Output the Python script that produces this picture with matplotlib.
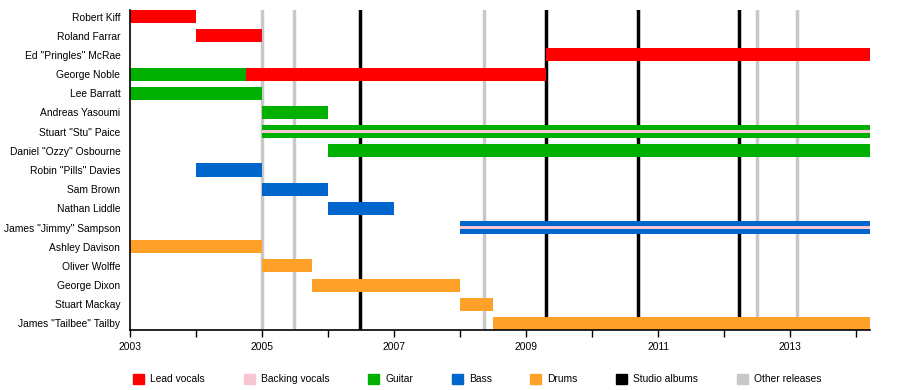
import matplotlib.pyplot as plt
from matplotlib.patches import Patch

plt.rcParams['font.family'] = ['Liberation Sans', 'DejaVu Sans']
plt.rcParams['font.size'] = 7.4

END = 2014.21

members = ['Robert Kiff', 'Roland Farrar', 'Ed "Pringles" McRae', 'George Noble',
           'Lee Barratt', 'Andreas Yasoumi', 'Stuart "Stu" Paice',
           'Daniel "Ozzy" Osbourne', 'Robin "Pills" Davies', 'Sam Brown',
           'Nathan Liddle', 'James "Jimmy" Sampson', 'Ashley Davison',
           'Oliver Wolffe', 'George Dixon', 'Stuart Mackay', 'James "Tailbee" Tailby']

# (member, role, start, end)
spans = [
    ('Robert Kiff', 'Lead vocals', 2003.0, 2004.0),
    ('Roland Farrar', 'Lead vocals', 2004.0, 2005.0),
    ('Ed "Pringles" McRae', 'Lead vocals', 2009.3, END),
    ('George Noble', 'Guitar', 2003.0, 2004.75),
    ('George Noble', 'Lead vocals', 2004.75, 2009.3),
    ('Lee Barratt', 'Guitar', 2003.0, 2005.0),
    ('Andreas Yasoumi', 'Guitar', 2005.0, 2006.0),
    ('Stuart "Stu" Paice', 'Guitar', 2005.0, END),
    ('Daniel "Ozzy" Osbourne', 'Guitar', 2006.0, END),
    ('Robin "Pills" Davies', 'Bass', 2004.0, 2005.0),
    ('Sam Brown', 'Bass', 2005.0, 2006.0),
    ('Nathan Liddle', 'Bass', 2006.0, 2007.0),
    ('James "Jimmy" Sampson', 'Bass', 2008.0, END),
    ('Ashley Davison', 'Drums', 2003.0, 2005.0),
    ('Oliver Wolffe', 'Drums', 2005.0, 2005.75),
    ('George Dixon', 'Drums', 2005.75, 2008.0),
    ('Stuart Mackay', 'Drums', 2008.0, 2008.5),
    ('James "Tailbee" Tailby', 'Drums', 2008.5, END),
]

# backing vocals drawn as thin stripe inside the main bar
backing = [
    ('Stuart "Stu" Paice', 2005.0, END),
    ('James "Jimmy" Sampson', 2008.0, END),
]

studio_albums = [2006.48, 2009.3, 2010.7, 2012.23]
other_releases = [2005.0, 2005.49, 2008.36, 2012.5, 2013.1]

colors = {
    'Lead vocals': '#FF0000',
    'Backing vocals': '#F7C6D0',
    'Guitar': '#00B000',
    'Bass': '#0066CC',
    'Drums': '#FFA029',
    'Studio albums': '#000000',
    'Other releases': '#C8C8C8',
}

fig = plt.figure(figsize=(9, 3.9), dpi=100)
ax = fig.add_axes([130/900, 1 - 330/390, 740/900, 320/390])

for x in other_releases:
    ax.axvline(x, color=colors['Other releases'], lw=2.5, zorder=1)
for x in studio_albums:
    ax.axvline(x, color=colors['Studio albums'], lw=2.5, zorder=1)

h = 0.68
for name, role, s, e in spans:
    y = members.index(name)
    ax.barh(y, e - s, left=s, height=h, color=colors[role], zorder=2)
for name, s, e in backing:
    y = members.index(name)
    ax.barh(y, e - s, left=s, height=0.18, color=colors['Backing vocals'], zorder=3)

ax.set_yticks(range(len(members)))
ax.set_yticklabels(members)
ax.set_ylim(len(members) - 1 + 0.34, -0.34)
ax.set_xlim(2003, END)
ax.set_xticks(range(2003, 2015, 2))
ax.set_xticks(range(2003, 2015), minor=True)
ax.tick_params(axis='y', length=0, pad=7)
ax.tick_params(axis='x', which='both', length=5, width=1, direction='out')
for side in ['top', 'right']:
    ax.spines[side].set_visible(False)
for side in ['left', 'bottom']:
    ax.spines[side].set_linewidth(1.2)
    ax.spines[side].set_zorder(4)

handles = [Patch(color=c, label=k) for k, c in colors.items()]
fig.legend(handles=handles, loc='center left', bbox_to_anchor=(128/900, 1 - 379/390),
           ncol=7, frameon=False, borderpad=0, handlelength=1.07, handleheight=1.25,
           columnspacing=3.75, handletextpad=0.6)

fig.savefig('out.png', dpi=100)
